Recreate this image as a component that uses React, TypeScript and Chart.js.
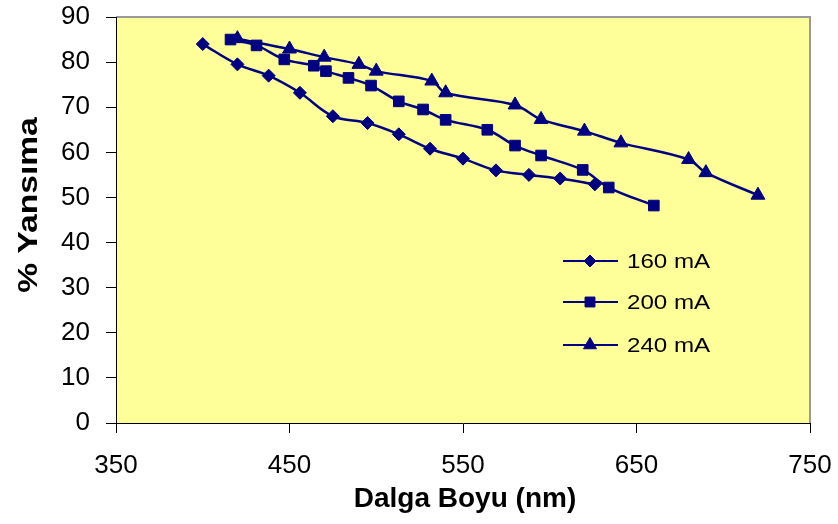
import React, { useEffect, useRef } from "react";
import { Chart, registerables } from "chart.js";

Chart.register(...registerables);

// ---- data ----
const wavelength160 = [400, 420, 438, 456, 475, 495, 513, 531, 550, 569, 588, 606, 626];
const reflect160 = [84, 79.5, 77, 73.2, 68, 66.5, 64, 60.8, 58.6, 56, 55, 54.2, 52.9];

const wavelength200 = [416, 431, 447, 464, 471, 484, 497, 513, 527, 540, 564, 580, 595, 619, 634, 660];
const reflect200 = [85, 83.7, 80.6, 79.2, 78, 76.5, 74.8, 71.3, 69.5, 67.2, 65, 61.5, 59.3, 56.1, 52.2, 48.2];

const wavelength240 = [420, 450, 470, 490, 500, 532, 540, 580, 595, 620, 641, 680, 690, 720];
const reflect240 = [85.2, 82.9, 81.1, 79.5, 78.0, 75.8, 73.2, 70.5, 67.3, 64.7, 62.1, 58.4, 55.5, 50.5];

const seriesLabels = ["160 mA", "200 mA", "240 mA"];
const xTitle = "Dalga Boyu (nm)";
const yTitle = "% Yansıma";
const xTicks = [350, 450, 550, 650, 750];
const yTicks = [0, 10, 20, 30, 40, 50, 60, 70, 80, 90];

const NAVY = "#000080";
const FONT = "Arial, 'Liberation Sans', sans-serif";

function toPoints(xs: number[], ys: number[]) {
  return xs.map((x, i) => ({ x, y: ys[i] }));
}

const plotBackground = {
  id: "plotBackground",
  beforeDraw(chart: any) {
    const { ctx, chartArea: a } = chart;
    ctx.save();
    ctx.fillStyle = "#FFFF99";
    ctx.fillRect(a.left, a.top, a.right - a.left, a.bottom - a.top);
    ctx.strokeStyle = "#9a9a9a";
    ctx.lineWidth = 2;
    ctx.beginPath();
    ctx.moveTo(a.left, a.top);
    ctx.lineTo(a.right, a.top);
    ctx.lineTo(a.right, a.bottom);
    ctx.stroke();
    ctx.restore();
  },
};

function drawMarker(ctx: CanvasRenderingContext2D, style: string, x: number, y: number, r: number) {
  ctx.beginPath();
  if (style === "rectRot") {
    ctx.moveTo(x - r, y);
    ctx.lineTo(x, y - r);
    ctx.lineTo(x + r, y);
    ctx.lineTo(x, y + r);
  } else if (style === "rect") {
    const s = r * Math.SQRT1_2;
    ctx.rect(x - s, y - s, 2 * s, 2 * s);
  } else {
    const h = r * Math.sin(Math.PI / 3);
    ctx.moveTo(x, y - r);
    ctx.lineTo(x + h, y + r / 2);
    ctx.lineTo(x - h, y + r / 2);
  }
  ctx.closePath();
  ctx.fill();
  ctx.stroke();
}

const titlesAndLegend = {
  id: "titlesAndLegend",
  afterDraw(chart: any) {
    const { ctx, chartArea: a } = chart;
    ctx.save();
    ctx.fillStyle = "#000";
    // x title
    ctx.font = `bold 28px ${FONT}`;
    ctx.textAlign = "center";
    ctx.textBaseline = "alphabetic";
    ctx.fillText(xTitle, (a.left + a.right) / 2 + 2, 507);
    // y title (stretched along its length)
    ctx.save();
    ctx.translate(37, 205);
    ctx.rotate(-Math.PI / 2);
    ctx.scale(1.2, 1);
    ctx.font = `bold 28px ${FONT}`;
    ctx.fillText(yTitle, 0, 0);
    ctx.restore();

    // legend
    const rows = [261, 302, 345];
    chart.data.datasets.forEach((ds: any, i: number) => {
      const y = rows[i];
      ctx.strokeStyle = NAVY;
      ctx.lineWidth = 2;
      ctx.beginPath();
      ctx.moveTo(563, y);
      ctx.lineTo(618, y);
      ctx.stroke();
      ctx.fillStyle = NAVY;
      ctx.lineWidth = 1;
      const style = ds.pointStyle;
      const r = style === "rectRot" ? 6 : style === "rect" ? 7 : 7.5;
      drawMarker(ctx, style, 590, y, r);
      ctx.fillStyle = "#000";
      ctx.save();
      ctx.translate(627, y + 7);
      ctx.scale(1.15, 1);
      ctx.font = `21px ${FONT}`;
      ctx.textAlign = "left";
      ctx.fillText(ds.label, 0, 0);
      ctx.restore();
    });
    ctx.restore();
  },
};

export default function App() {
  const canvasRef = useRef<HTMLCanvasElement | null>(null);

  useEffect(() => {
    const canvas = canvasRef.current;
    if (!canvas) return;
    const common = {
      borderColor: NAVY,
      backgroundColor: NAVY,
      pointBackgroundColor: NAVY,
      pointBorderColor: NAVY,
      pointBorderWidth: 1,
      borderWidth: 2.5,
      showLine: true,
      tension: 0.35,
      fill: false,
    };
    const chart = new Chart(canvas, {
      type: "scatter",
      data: {
        datasets: [
          { ...common, label: seriesLabels[0], data: toPoints(wavelength160, reflect160), pointStyle: "rectRot", pointRadius: 6.5 },
          { ...common, label: seriesLabels[1], data: toPoints(wavelength200, reflect200), pointStyle: "rect", pointRadius: 7.5 },
          { ...common, label: seriesLabels[2], data: toPoints(wavelength240, reflect240), pointStyle: "triangle", pointRadius: 8 },
        ],
      },
      options: {
        animation: false,
        responsive: false,
        devicePixelRatio: 1,
        layout: { padding: { top: 17, right: 28, left: 0, bottom: 0 } },
        plugins: {
          legend: { display: false },
          tooltip: { enabled: false },
          title: { display: false },
        },
        scales: {
          x: {
            type: "linear",
            min: xTicks[0],
            max: xTicks[xTicks.length - 1],
            afterFit: (s: any) => {
              s.height = 101;
              s.paddingLeft = 0;
              s.paddingRight = 0;
            },
            afterBuildTicks: (s: any) => { s.ticks = xTicks.map((v) => ({ value: v })); },
            ticks: { color: "#000", font: { family: FONT, size: 26 }, padding: 17, maxRotation: 0 },
            grid: { display: true, drawOnChartArea: false, drawTicks: true, tickLength: 10, color: "#000", lineWidth: 1 },
            border: { display: true, color: "#000", width: 1 },
            title: { display: false },
          },
          y: {
            type: "linear",
            min: yTicks[0],
            max: yTicks[yTicks.length - 1],
            afterFit: (s: any) => {
              s.width = 116;
              s.paddingTop = 0;
              s.paddingBottom = 0;
            },
            afterBuildTicks: (s: any) => { s.ticks = yTicks.map((v) => ({ value: v })); },
            ticks: { color: "#000", font: { family: FONT, size: 26 }, padding: 16 },
            grid: { display: true, drawOnChartArea: false, drawTicks: true, tickLength: 10, color: "#000", lineWidth: 1 },
            border: { display: true, color: "#000", width: 1 },
            title: { display: false },
          },
        },
      },
      plugins: [plotBackground, titlesAndLegend],
    } as any);
    return () => chart.destroy();
  }, []);

  return (
    <div style={{ position: "fixed", left: 0, top: 0, width: 838, height: 524, background: "#fff" }}>
      <canvas ref={canvasRef} width={838} height={524} style={{ width: 838, height: 524, display: "block" }} />
    </div>
  );
}
